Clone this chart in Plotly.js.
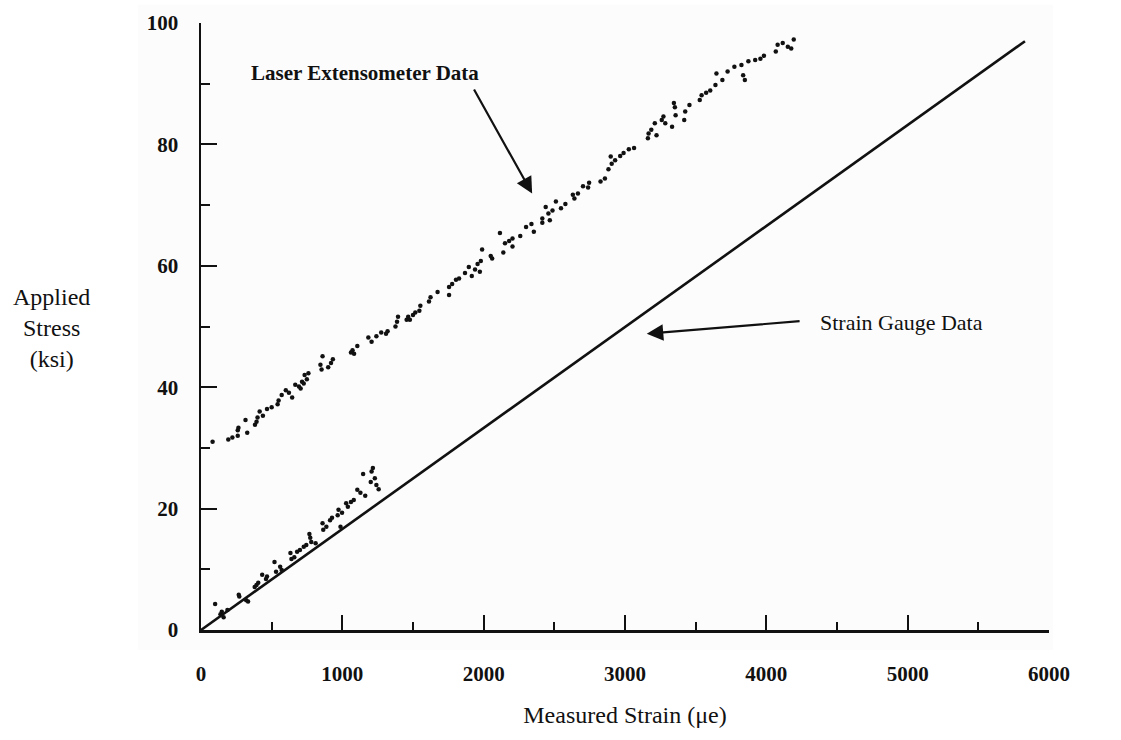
<!DOCTYPE html>
<html>
<head>
<meta charset="utf-8">
<script src="https://cdn.plot.ly/plotly-3.0.1.min.js"></script>
<style>html,body{margin:0;padding:0;background:#fff;}#chart{width:1121px;height:740px;}</style>
</head>
<body>
<div id="chart"></div>
<script>
// Laser extensometer data, lower cluster (strain in microstrain, stress in ksi)
const laserLowStrain = [100,138,147,160,187,267,271,320,333,380,393,405,433,460,467,520,531,560,571,633,640,660,680,700,727,745,767,773,780,811,860,865,887,913,927,967,973,987,998,1027,1039,1061,1081,1106,1128,1162,1147,1207,1216,1201,1230,1241,1257];
const laserLowStress = [4.3,2.6,3.0,2.1,3.3,5.8,5.5,4.9,4.7,7.1,7.4,7.8,9.1,8.4,8.8,11.2,9.6,10.4,9.9,12.7,11.7,12.0,12.9,13.2,13.7,14.0,15.8,15.2,14.5,14.3,17.6,16.5,17.0,18.1,18.5,18.9,19.8,17.0,19.3,20.9,20.3,21.1,21.4,23.1,22.6,22.1,25.7,26.1,26.7,24.4,25.0,23.9,23.2];

// Laser extensometer data, upper cluster
const laserHighStrain = [82,193,222,260,260,265,315,327,382,393,400,415,438,467,500,542,549,571,600,622,645,667,693,705,715,727,733,749,760,845,860,853,900,920,933,1061,1072,1106,1083,1184,1207,1241,1275,1309,1320,1376,1387,1394,1455,1466,1478,1500,1516,1545,1552,1613,1624,1674,1755,1755,1777,1804,1826,1868,1895,1916,1939,1957,1973,1989,1980,2050,2060,2115,2139,2151,2180,2204,2204,2259,2300,2338,2355,2415,2415,2439,2458,2468,2487,2511,2547,2578,2631,2642,2667,2703,2739,2746,2827,2858,2883,2899,2906,2930,2966,2990,3027,3064,3162,3167,3186,3211,3223,3260,3272,3285,3333,3346,3353,3358,3419,3426,3456,3529,3542,3574,3603,3640,3647,3689,3726,3774,3824,3836,3848,3873,3921,3958,3983,4067,4080,4116,4152,4176,4194];
const laserHighStress = [31.0,31.4,31.7,32.0,32.9,33.3,34.6,32.5,33.8,34.3,35.0,36.0,35.3,36.4,36.7,37.2,37.8,38.7,39.5,39.1,38.3,40.4,40.1,39.8,40.9,40.6,42.0,41.3,42.3,43.7,45.1,42.9,43.3,44.0,44.6,45.7,46.1,46.8,45.5,48.2,47.5,48.4,49.0,48.8,49.2,50.0,50.8,51.6,51.1,51.6,51.1,51.9,52.3,52.6,53.4,54.1,54.8,55.7,55.2,56.5,57.0,57.7,57.9,58.8,59.8,58.3,59.4,60.3,59.0,62.7,60.8,61.6,61.2,65.4,62.2,63.7,64.1,64.5,63.2,64.9,66.4,66.9,65.6,67.1,67.8,69.7,68.6,67.5,69.1,70.6,69.5,70.2,71.7,71.1,71.9,73.1,72.9,73.7,73.9,74.4,75.9,78.0,76.8,77.4,78.1,78.6,79.2,79.4,81.0,81.8,82.4,83.5,81.5,84.0,84.6,83.5,82.9,86.8,86.1,84.8,84.0,85.4,86.5,87.3,88.1,88.5,88.9,89.8,91.7,90.6,92.0,92.8,93.1,91.4,90.6,93.7,93.9,94.1,94.6,95.3,96.4,96.7,96.1,95.8,97.3];

// Strain gauge data (straight line)
const gaugeStrain = [0, 5830];
const gaugeStress = [0, 97];

// Axis ticks
const xTickVals = [0,1000,2000,3000,4000,5000,6000];
const xTickText = ['0','1000','2000','3000','4000','5000','6000'];
const yTickVals = [0,20,40,60,80,100];
const yTickText = ['0','20','40','60','80','100'];

const SERIF = '"Liberation Serif", "Times New Roman", serif';

const dotStyle = {color:'#111', size:4.5};
const traces = [
  {x: laserLowStrain, y: laserLowStress, mode:'markers', type:'scatter', name:'Laser Extensometer Data (low)', marker: dotStyle, cliponaxis:false},
  {x: laserHighStrain, y: laserHighStress, mode:'markers', type:'scatter', name:'Laser Extensometer Data', marker: dotStyle, cliponaxis:false},
  {x: gaugeStrain, y: gaugeStress, mode:'lines', type:'scatter', name:'Strain Gauge Data', line:{color:'#111', width:2.6}, cliponaxis:false}
];

const layout = {
  width:1121, height:740,
  margin:{l:201, r:72, t:23, b:110},
  paper_bgcolor:'#ffffff',
  plot_bgcolor:'rgba(0,0,0,0)',
  showlegend:false,
  font:{family:SERIF, color:'#111'},
  xaxis:{
    range:[0,6000], tickvals:xTickVals, ticktext:xTickText,
    ticks:'inside', ticklen:15, tickwidth:2, tickcolor:'#111',
    minor:{tickvals:[500,1500,2500,3500,4500,5500], ticks:'inside', ticklen:8, tickwidth:2, tickcolor:'#111'},
    showline:true, linecolor:'#111', linewidth:2.5, showgrid:false, zeroline:false,
    tickfont:{family:SERIF, size:21, color:'#111', weight:'bold'},
    ticklabelstandoff:23,
    title:{text:'Measured Strain (μe)', font:{family:SERIF, size:24, color:'#111'}, standoff:22}
  },
  yaxis:{
    range:[0,100], tickvals:yTickVals, ticktext:yTickText,
    ticks:'inside', ticklen:16, tickwidth:2, tickcolor:'#111',
    minor:{tickvals:[10,30,50,70,90], ticks:'inside', ticklen:9, tickwidth:2, tickcolor:'#111'},
    showline:true, linecolor:'#111', linewidth:2.5, showgrid:false, zeroline:false,
    tickfont:{family:SERIF, size:21, color:'#111', weight:'bold'},
    ticklabelstandoff:16
  },
  shapes:[
    {type:'rect', xref:'paper', yref:'paper', x0:-0.074, x1:1.005, y0:-0.033, y1:1.03, fillcolor:'#fcfcfc', line:{width:0}, layer:'below'}
  ],
  annotations:[
    {xref:'paper', yref:'paper', x:-0.176, y:0.4975, xanchor:'center', yanchor:'middle', showarrow:false,
     text:'Applied<br>Stress<br>(ksi)', align:'center', font:{family:SERIF, size:24, color:'#111'}},
    {x:340, y:91.8, xanchor:'left', yanchor:'middle', showarrow:false,
     text:'Laser Extensometer Data', font:{family:SERIF, size:21, color:'#111', weight:'bold'}},
    {x:2343, y:71.9, ax:1926, ay:89.3, axref:'x', ayref:'y', text:'', showarrow:true,
     arrowhead:2, arrowsize:1.5, arrowwidth:2.2, arrowcolor:'#111'},
    {x:4362, y:50.6, xanchor:'left', yanchor:'middle', showarrow:false,
     text:'Strain Gauge Data', font:{family:SERIF, size:22, color:'#111'}},
    {x:3154, y:48.8, ax:4246, ay:50.9, axref:'x', ayref:'y', text:'', showarrow:true,
     arrowhead:2, arrowsize:1.5, arrowwidth:2.2, arrowcolor:'#111'}
  ]
};

Plotly.newPlot('chart', traces, layout, {staticPlot:true, displayModeBar:false});
</script>
</body>
</html>
